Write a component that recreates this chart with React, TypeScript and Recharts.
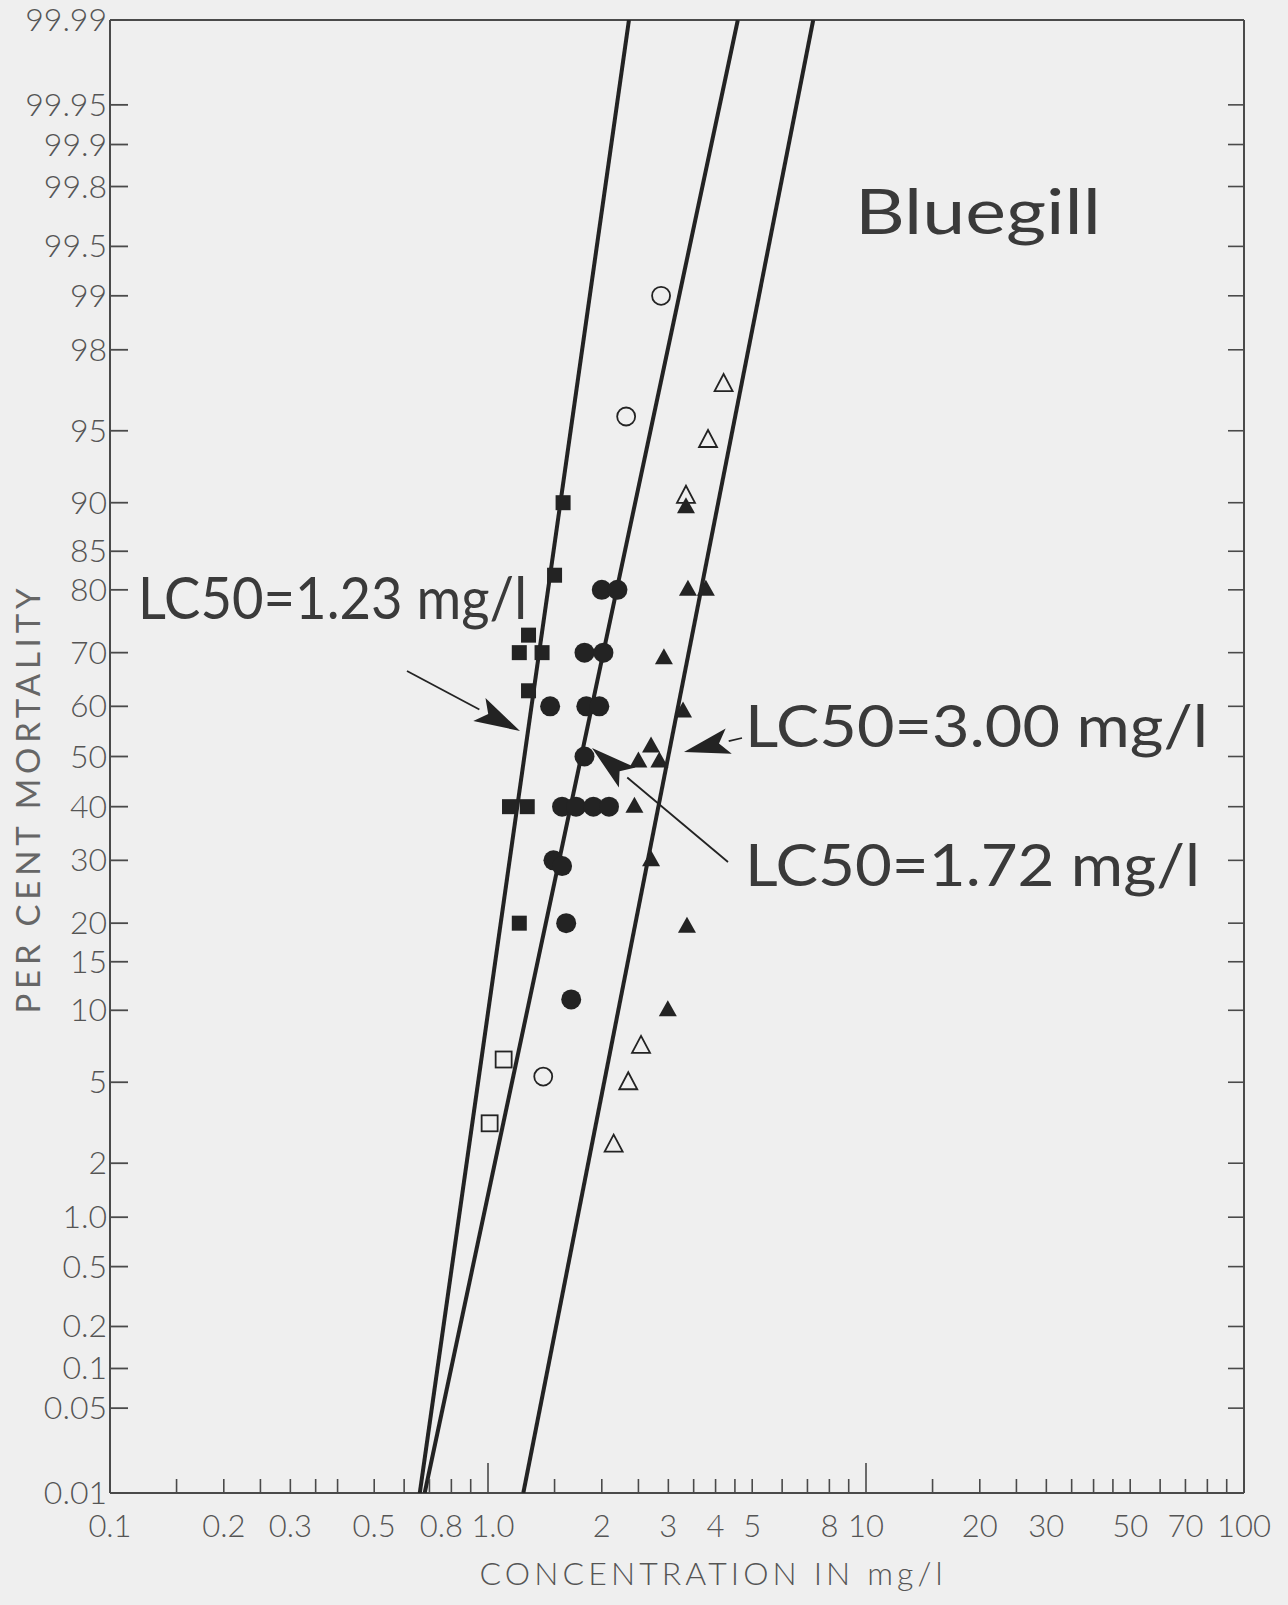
import { ComposedChart, Scatter, XAxis, YAxis } from 'recharts';

// percent mortality vs concentration (mg/l)
const filledSquareConc = [1.58, 1.5, 1.28, 1.21, 1.39, 1.28, 1.14, 1.27, 1.21];
const filledSquarePct = [90, 82, 73, 70, 70, 63, 40, 40, 20];

const openSquareConc = [1.1, 1.01];
const openSquarePct = [6.3, 3.2];

const filledCircleConc = [2.0, 2.2, 1.8, 2.02, 1.46, 1.82, 1.97, 1.8, 1.57, 1.71, 1.9, 2.09, 1.49, 1.57, 1.61, 1.66];
const filledCirclePct = [80, 80, 70, 70, 60, 60, 60, 50, 40, 40, 40, 40, 30, 29, 20, 11];

const openCircleConc = [1.4, 2.32, 2.87];
const openCirclePct = [5.3, 95.7, 99];

const filledTriangleConc = [3.34, 3.38, 3.77, 2.92, 3.28, 2.7, 2.5, 2.84, 2.44, 2.7, 3.36, 2.99];
const filledTrianglePct = [89.6, 80, 80, 69, 59, 52, 49, 49, 40, 30, 19.5, 10];

const openTriangleConc = [4.2, 3.82, 3.34, 2.54, 2.35, 2.15];
const openTrianglePct = [97, 94.5, 90.6, 7.2, 5.0, 2.5];

// fitted lines, ends at 0.01 % and 99.99 %
const lineEndPct = [0.01, 99.99];
const lc123Conc = [0.66, 2.36];
const lc172Conc = [0.68, 4.58];
const lc300Conc = [1.24, 7.25];

const yTickPct = [0.01, 0.05, 0.1, 0.2, 0.5, 1, 2, 5, 10, 15, 20, 30, 40, 50, 60, 70, 80, 85, 90, 95, 98, 99, 99.5, 99.8, 99.9, 99.95, 99.99];
const yTickLabels = ['0.01', '0.05', '0.1', '0.2', '0.5', '1.0', '2', '5', '10', '15', '20', '30', '40', '50', '60', '70', '80', '85', '90', '95', '98', '99', '99.5', '99.8', '99.9', '99.95', '99.99'];

const xTicks = [0.1, 0.15, 0.2, 0.25, 0.3, 0.35, 0.4, 0.5, 0.6, 0.7, 0.8, 0.9, 1, 1.5, 2, 2.5, 3, 3.5, 4, 4.5, 5, 6, 7, 8, 9, 10, 15, 20, 25, 30, 35, 40, 45, 50, 60, 70, 80, 90, 100];
const xLabelValues = [0.1, 0.2, 0.3, 0.5, 0.8, 1, 2, 3, 4, 5, 8, 10, 20, 30, 50, 70, 100];
const xLabelText = ['0.1', '0.2', '0.3', '0.5', '0.8', '1.0', '2', '3', '4', '5', '8', '10', '20', '30', '50', '70', '100'];

const W = 1288;
const H = 1605;
const INK = '#232323';
const AXIS = '#4a4a4a';
const LABEL = '#555';
const BG = '#efefef';
const FONT = 'Lato, "Noto Sans", sans-serif';

// inverse normal cdf (Acklam)
function probit(p: number) {
  const a = [-39.69683028665376, 220.9460984245205, -275.9285104469687, 138.357751867269, -30.66479806614716, 2.506628277459239];
  const b = [-54.47609879822406, 161.5858368580409, -155.6989798598866, 66.80131188771972, -13.28068155288572];
  const c = [-0.007784894002430293, -0.3223964580411365, -2.400758277161838, -2.549732539343734, 4.374664141464968, 2.938163982698783];
  const d = [0.007784695709041462, 0.3224671290700398, 2.445134137142996, 3.754408661907416];
  const lo = 0.02425;
  if (p < lo) {
    const q = Math.sqrt(-2 * Math.log(p));
    return (((((c[0] * q + c[1]) * q + c[2]) * q + c[3]) * q + c[4]) * q + c[5]) / ((((d[0] * q + d[1]) * q + d[2]) * q + d[3]) * q + 1);
  }
  if (p > 1 - lo) {
    const q = Math.sqrt(-2 * Math.log(1 - p));
    return -(((((c[0] * q + c[1]) * q + c[2]) * q + c[3]) * q + c[4]) * q + c[5]) / ((((d[0] * q + d[1]) * q + d[2]) * q + d[3]) * q + 1);
  }
  const q = p - 0.5;
  const r = q * q;
  return (((((a[0] * r + a[1]) * r + a[2]) * r + a[3]) * r + a[4]) * r + a[5]) * q / (((((b[0] * r + b[1]) * r + b[2]) * r + b[3]) * r + b[4]) * r + 1);
}

const toPoints = (conc: number[], pct: number[]) => conc.map((x, i) => ({ x, y: probit(pct[i] / 100) }));

const Y_MIN = probit(0.0001);
const Y_MAX = probit(0.9999);
const yTicks = yTickPct.map(p => probit(p / 100));

const same = (a: number, b: number) => Math.abs(a - b) < 1e-9;

const BottomTick = (props: any) => {
  const { x, y, payload } = props;
  const v = payload.value;
  const long = same(v, 1) || same(v, 10);
  const i = xLabelValues.findIndex(l => same(l, v));
  // the printed "0.8" and "1.0" are nudged apart so they don't collide
  const dx = same(v, 0.8) ? -10 : same(v, 1) ? 5 : 0;
  return (
    <g>
      <line x1={x} x2={x} y1={y} y2={y - (long ? 30 : 14)} stroke={AXIS} strokeWidth={1.6} />
      {i >= 0 && (
        <text x={x + dx} y={y + 44} textAnchor="middle" fontSize={31} fill={LABEL} fontFamily={FONT} fontWeight={300}>
          {xLabelText[i]}
        </text>
      )}
    </g>
  );
};

const TopTick = (props: any) => {
  const { x, y, payload } = props;
  const v = payload.value;
  const long = same(v, 1) || same(v, 10);
  return <line x1={x} x2={x} y1={y} y2={y + (long ? 36 : 18)} stroke={AXIS} strokeWidth={1.6} />;
};

const LeftTick = (props: any) => {
  const { x, y, index } = props;
  return (
    <g>
      <line x1={x} x2={x + 18} y1={y} y2={y} stroke={AXIS} strokeWidth={1.8} />
      <text x={x - 3} y={y + 11} textAnchor="end" fontSize={32} fill={LABEL} fontFamily={FONT} fontWeight={300}>
        {yTickLabels[index]}
      </text>
    </g>
  );
};

const RightTick = (props: any) => {
  const { x, y } = props;
  return <line x1={x} x2={x - 16} y1={y} y2={y} stroke={AXIS} strokeWidth={1.6} />;
};

const none = () => <g />;
const filledSquare = (p: any) => <rect x={p.cx - 7.5} y={p.cy - 7.5} width={15} height={15} fill={INK} />;
const openSquare = (p: any) => <rect x={p.cx - 8} y={p.cy - 8} width={16} height={16} fill="none" stroke={INK} strokeWidth={1.8} />;
const filledCircle = (p: any) => <circle cx={p.cx} cy={p.cy} r={10} fill={INK} />;
const openCircle = (p: any) => <circle cx={p.cx} cy={p.cy} r={9} fill="none" stroke={INK} strokeWidth={1.8} />;
const filledTriangle = (p: any) => (
  <polygon points={`${p.cx},${p.cy - 10} ${p.cx - 9},${p.cy + 6} ${p.cx + 9},${p.cy + 6}`} fill={INK} />
);
const openTriangle = (p: any) => (
  <polygon points={`${p.cx},${p.cy - 10} ${p.cx - 9},${p.cy + 7} ${p.cx + 9},${p.cy + 7}`} fill="none" stroke={INK} strokeWidth={1.8} />
);

function Arrow({ x1, y1, x2, y2 }: { x1: number; y1: number; x2: number; y2: number }) {
  const dx = x2 - x1;
  const dy = y2 - y1;
  const len = Math.hypot(dx, dy);
  const ux = dx / len;
  const uy = dy / len;
  const hl = 46;
  const hw = 13;
  const bx = x2 - ux * hl;
  const by = y2 - uy * hl;
  const nx = bx + ux * 10;
  const ny = by + uy * 10;
  return (
    <g>
      <line x1={x1} y1={y1} x2={bx} y2={by} stroke={INK} strokeWidth={1.8} />
      <polygon
        points={`${x2},${y2} ${bx - uy * hw},${by + ux * hw} ${nx},${ny} ${bx + uy * hw},${by - ux * hw}`}
        fill={INK}
      />
    </g>
  );
}

export default function App() {
  const big = { fontFamily: FONT, fill: '#3a3a3a', fontWeight: 400 };
  return (
    <div style={{ position: 'absolute', left: 0, top: 0, width: W, height: H, background: BG }}>
      <ComposedChart width={W} height={H} margin={{ top: 19, right: 43, bottom: 111, left: 109 }}>
        <XAxis
          xAxisId={0}
          dataKey="x"
          type="number"
          scale="log"
          domain={[0.1, 100]}
          allowDataOverflow
          ticks={xTicks}
          interval={0}
          height={1}
          tickSize={0}
          tickMargin={0}
          tick={<BottomTick />}
          axisLine={{ stroke: AXIS, strokeWidth: 2 }}
          tickLine={false}
        />
        <XAxis
          xAxisId="top"
          orientation="top"
          type="number"
          scale="log"
          domain={[0.1, 100]}
          allowDataOverflow
          ticks={xTicks}
          interval={0}
          height={1}
          tickSize={0}
          tickMargin={0}
          tick={<TopTick />}
          axisLine={{ stroke: AXIS, strokeWidth: 2 }}
          tickLine={false}
        />
        <YAxis
          yAxisId={0}
          dataKey="y"
          type="number"
          domain={[Y_MIN, Y_MAX]}
          allowDataOverflow
          ticks={yTicks}
          interval={0}
          width={1}
          tickSize={0}
          tickMargin={0}
          tick={<LeftTick />}
          axisLine={{ stroke: AXIS, strokeWidth: 2 }}
          tickLine={false}
        />
        <YAxis
          yAxisId="right"
          orientation="right"
          type="number"
          domain={[Y_MIN, Y_MAX]}
          allowDataOverflow
          ticks={yTicks}
          interval={0}
          width={1}
          tickSize={0}
          tickMargin={0}
          tick={<RightTick />}
          axisLine={{ stroke: AXIS, strokeWidth: 2 }}
          tickLine={false}
        />

        <Scatter data={toPoints(lc123Conc, lineEndPct)} line={{ stroke: INK, strokeWidth: 4 }} shape={none} isAnimationActive={false} />
        <Scatter data={toPoints(lc172Conc, lineEndPct)} line={{ stroke: INK, strokeWidth: 4 }} shape={none} isAnimationActive={false} />
        <Scatter data={toPoints(lc300Conc, lineEndPct)} line={{ stroke: INK, strokeWidth: 4 }} shape={none} isAnimationActive={false} />

        <Scatter data={toPoints(filledSquareConc, filledSquarePct)} shape={filledSquare} isAnimationActive={false} />
        <Scatter data={toPoints(openSquareConc, openSquarePct)} shape={openSquare} isAnimationActive={false} />
        <Scatter data={toPoints(filledCircleConc, filledCirclePct)} shape={filledCircle} isAnimationActive={false} />
        <Scatter data={toPoints(openCircleConc, openCirclePct)} shape={openCircle} isAnimationActive={false} />
        <Scatter data={toPoints(openTriangleConc, openTrianglePct)} shape={openTriangle} isAnimationActive={false} />
        <Scatter data={toPoints(filledTriangleConc, filledTrianglePct)} shape={filledTriangle} isAnimationActive={false} />
      </ComposedChart>

      <svg width={W} height={H} style={{ position: 'absolute', left: 0, top: 0, pointerEvents: 'none' }}>
        <text x={855} y={234} fontSize={62} textLength={246} lengthAdjust="spacingAndGlyphs" {...big}>Bluegill</text>
        <text x={138} y={619} fontSize={58} textLength={389} lengthAdjust="spacingAndGlyphs" {...big}>LC50=1.23 mg/l</text>
        <text x={745} y={747} fontSize={58} textLength={463} lengthAdjust="spacingAndGlyphs" {...big}>LC50=3.00 mg/l</text>
        <text x={745} y={886} fontSize={58} textLength={455} lengthAdjust="spacingAndGlyphs" {...big}>LC50=1.72 mg/l</text>

        <Arrow x1={407} y1={671} x2={520} y2={731} />
        <Arrow x1={742} y1={738} x2={684} y2={752} />
        <Arrow x1={728} y1={862} x2={592} y2={748} />

        <text
          x={0}
          y={0}
          transform="translate(40 801) rotate(-90)"
          textAnchor="middle"
          fontSize={33}
          textLength={425}
          lengthAdjust="spacing"
          fill="#666"
          fontFamily={FONT}
          fontWeight={400}
        >
          PER CENT MORTALITY
        </text>
        <text
          x={711}
          y={1585}
          textAnchor="middle"
          fontSize={32}
          textLength={463}
          lengthAdjust="spacing"
          fill={LABEL}
          fontFamily={FONT}
          fontWeight={300}
        >
          CONCENTRATION IN mg/l
        </text>
      </svg>
    </div>
  );
}
